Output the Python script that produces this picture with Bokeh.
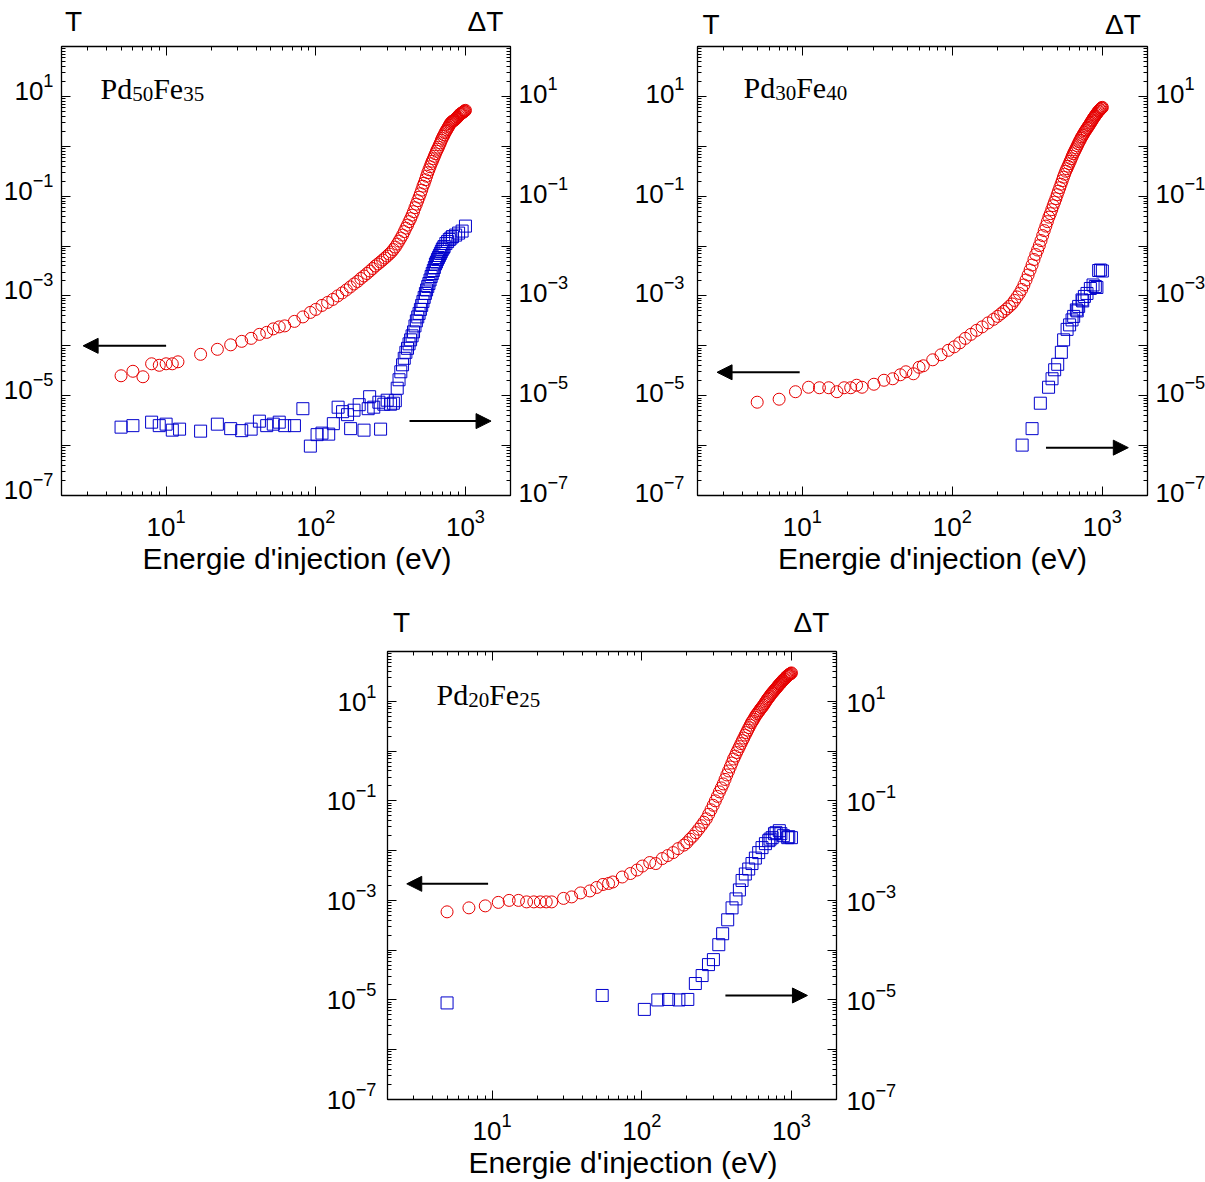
import numpy as np
from bokeh.plotting import figure
from bokeh.models import (Range1d, LogScale, LogAxis, FixedTicker, Label, Arrow,
                          NormalHead, CustomJSTickFormatter, LogTickFormatter)
from bokeh.layouts import column, row
from bokeh.embed import file_html
from bokeh.resources import INLINE

# ---------------------------------------------------------------- data
# Energies in eV, transmission values stored as log10(T).

# Pd50Fe35
e1_red = [5, 6, 7, 8, 9, 10, 11, 12, 17, 22, 27, 32, 37, 42, 47, 52, 57, 62, 72, 82, 92,
          100, 110, 120, 130, 140, 150, 160, 170, 180, 190, 200, 210, 220, 230, 240, 250,
          260, 270, 280, 290, 300, 310, 320, 330, 340, 350, 360, 370, 380, 390, 400, 410,
          420, 430, 440, 450, 460, 470, 480, 490, 500, 510, 520, 530, 540, 550, 560, 570,
          580, 590, 600, 610, 620, 630, 640, 650, 660, 670, 680, 690, 700, 710, 720, 730,
          740, 750, 760, 770, 780, 790, 800, 810, 820, 830, 840, 850, 860, 870, 880, 890,
          900, 910, 920, 930, 940, 950, 960, 970, 980, 990, 1000]
lt1_red = [-4.60, -4.51, -4.62, -4.36, -4.39, -4.36, -4.36, -4.32, -4.17, -4.07, -3.98, -3.91,
           -3.85, -3.77, -3.73, -3.66, -3.62, -3.60, -3.51, -3.42, -3.33,
           -3.27, -3.19, -3.13, -3.07, -3.00, -2.94, -2.88, -2.82, -2.76, -2.71, -2.65, -2.60,
           -2.55, -2.50, -2.45, -2.40, -2.36, -2.32, -2.28, -2.24, -2.20, -2.16, -2.12, -2.07,
           -2.02, -1.96, -1.90, -1.84, -1.78, -1.71, -1.64, -1.58, -1.51, -1.45, -1.38, -1.31,
           -1.23, -1.16, -1.09, -1.02, -0.95, -0.88, -0.80, -0.74, -0.67, -0.60, -0.53, -0.47,
           -0.41, -0.35, -0.30, -0.25, -0.20, -0.15, -0.10, -0.06, -0.02, 0.03, 0.07, 0.12,
           0.16, 0.20, 0.23, 0.27, 0.30, 0.33, 0.36, 0.39, 0.42, 0.45, 0.47, 0.49, 0.50, 0.51,
           0.52, 0.53, 0.55, 0.56, 0.58, 0.59, 0.61, 0.63, 0.64, 0.65, 0.66, 0.67, 0.68, 0.69,
           0.70, 0.71, 0.72]
e1_blue = [5, 6, 8, 9, 10, 11, 12.3, 17, 22, 27, 32, 37, 42, 47, 52, 57, 62, 72, 82, 92,
           102, 110, 122, 131, 141, 151, 163, 171, 180, 195, 210, 224, 229, 244, 264, 271,
           285, 300, 316, 330, 340, 350, 360, 370, 380, 390, 400, 410, 420, 430, 440, 450,
           460, 470, 480, 490, 500, 510, 520, 530, 540, 550, 560, 570, 580, 590, 600, 610,
           620, 630, 640, 650, 660, 670, 680, 690, 700, 710, 720, 740, 760, 780, 800, 820,
           860, 900, 950, 1000]
lt1_blue = [-5.63, -5.60, -5.53, -5.60, -5.57, -5.69, -5.67, -5.71, -5.57, -5.66, -5.70, -5.67,
            -5.51, -5.60, -5.57, -5.53, -5.60, -5.60, -5.26, -6.01,
            -5.78, -5.75, -5.77, -5.56, -5.23, -5.32, -5.38, -5.66, -5.29, -5.18,
            -5.69, -5.26, -5.02, -5.23, -5.13, -5.67, -5.17, -5.09, -5.17, -5.15,
            -5.10, -4.85, -4.68, -4.52, -4.38, -4.25, -4.13, -4.05, -3.96, -3.88, -3.80, -3.72,
            -3.60, -3.50, -3.42, -3.35, -3.27, -3.19, -3.11, -3.03, -2.95, -2.88, -2.81, -2.75,
            -2.68, -2.61, -2.55, -2.49, -2.43, -2.36, -2.32, -2.27, -2.23, -2.19, -2.15, -2.11,
            -2.07, -2.04, -2.01, -1.95, -1.91, -1.87, -1.84, -1.81, -1.78, -1.74, -1.70, -1.60]

# Pd30Fe40
e2_red = [5, 7, 9, 11, 13, 15, 17, 19, 21, 23, 25, 30, 35, 40, 45, 49, 55, 60, 64, 74,
          84, 94, 103, 112, 122, 133, 145, 158, 173, 188,
          200, 210, 220, 230, 240, 250, 260, 270, 280, 290, 300, 310, 320, 330, 340, 350,
          360, 370, 380, 390, 400, 410, 420, 430, 440, 450, 460, 470, 480, 490, 500, 510,
          520, 530, 540, 550, 560, 570, 580, 590, 600, 610, 620, 630, 640, 650, 660, 670,
          680, 690, 700, 710, 720, 730, 740, 750, 760, 770, 780, 790, 800, 810, 820, 830,
          840, 850, 860, 870, 880, 890, 900, 910, 920, 930, 940, 950, 960, 970, 980, 990, 1000]
lt2_red = [-5.13, -5.07, -4.92, -4.83, -4.84, -4.84, -4.92, -4.84, -4.84, -4.79,
           -4.83, -4.77, -4.69, -4.66, -4.58, -4.52, -4.56, -4.43, -4.40, -4.28,
           -4.18, -4.09, -4.02, -3.94, -3.85, -3.77, -3.69, -3.62, -3.54, -3.47,
           -3.41, -3.36, -3.31, -3.26, -3.21, -3.16, -3.09, -3.02, -2.95, -2.87, -2.78, -2.68,
           -2.58, -2.48, -2.38, -2.27, -2.17, -2.08, -1.99, -1.89, -1.79, -1.69, -1.60, -1.51,
           -1.42, -1.35, -1.27, -1.19, -1.12, -1.05, -0.97, -0.90, -0.83, -0.76, -0.69, -0.62,
           -0.56, -0.50, -0.45, -0.40, -0.35, -0.30, -0.25, -0.20, -0.15, -0.11, -0.07, -0.03,
           0.01, 0.05, 0.09, 0.12, 0.16, 0.19, 0.22, 0.25, 0.28, 0.31, 0.33, 0.36, 0.38, 0.41,
           0.43, 0.46, 0.48, 0.51, 0.53, 0.56, 0.58, 0.60, 0.62, 0.64, 0.66, 0.68, 0.70, 0.71,
           0.73, 0.74, 0.76, 0.77, 0.78]
e2_blue = [292, 340, 386, 438, 462, 481, 504, 533, 552, 582, 605, 628, 644, 671, 680, 695,
           732, 740, 759, 790, 832, 867, 898, 920, 945, 970, 1000]
lt2_blue = [-5.99, -5.66, -5.15, -4.83, -4.66, -4.48, -4.37, -4.13, -3.88, -3.67, -3.58, -3.48,
            -3.41, -3.28, -3.30, -3.21, -3.08, -3.10, -3.01, -2.95, -2.85, -2.78, -2.81, -2.83,
            -2.49, -2.48, -2.50]

# Pd20Fe25
e3_red = [5, 7, 9, 11, 13, 15, 17, 19, 21, 23, 25, 30, 34, 39, 45, 50, 55, 60, 64, 74,
          84, 93, 101, 113, 124, 137, 149, 162, 175, 191,
          200, 210, 220, 230, 240, 250, 260, 270, 280, 290, 300, 310, 320, 330, 340, 350,
          360, 370, 380, 390, 400, 410, 420, 430, 440, 450, 460, 470, 480, 490, 500, 510,
          520, 530, 540, 550, 560, 570, 580, 590, 600, 610, 620, 630, 640, 650, 660, 670,
          680, 690, 700, 710, 720, 730, 740, 750, 760, 770, 780, 790, 800, 810, 820, 830,
          840, 850, 860, 870, 880, 890, 900, 910, 920, 930, 940, 950, 960, 970, 980, 990, 1000]
lt3_red = [-3.23, -3.15, -3.11, -3.04, -3.00, -3.00, -3.03, -3.03, -3.03, -3.03,
           -3.03, -2.96, -2.93, -2.85, -2.81, -2.74, -2.68, -2.66, -2.63, -2.53,
           -2.46, -2.39, -2.31, -2.24, -2.26, -2.16, -2.10, -2.04, -1.96, -1.89,
           -1.84, -1.77, -1.71, -1.64, -1.57, -1.50, -1.43, -1.36, -1.27, -1.18, -1.09, -1.00,
           -0.91, -0.82, -0.74, -0.66, -0.57, -0.48, -0.40, -0.32, -0.24, -0.16, -0.10, -0.03,
           0.03, 0.09, 0.15, 0.21, 0.26, 0.32, 0.37, 0.42, 0.47, 0.52, 0.57, 0.60, 0.64, 0.68,
           0.72, 0.75, 0.78, 0.81, 0.84, 0.87, 0.89, 0.92, 0.95, 0.98, 1.01, 1.04, 1.06, 1.09,
           1.11, 1.14, 1.16, 1.18, 1.20, 1.22, 1.24, 1.26, 1.28, 1.30, 1.32, 1.34, 1.35, 1.37,
           1.39, 1.41, 1.42, 1.44, 1.45, 1.47, 1.48, 1.50, 1.51, 1.52, 1.53, 1.54, 1.55, 1.56,
           1.57]
e3_blue = [5, 54.4, 104, 128, 151, 177, 203, 228, 253, 279, 301, 327, 347, 375, 401, 426,
           449, 468, 492, 518, 545, 574, 604, 636, 670, 705, 720, 743, 770, 789, 830, 850,
           883, 944, 960, 1000]
lt3_blue = [-5.06, -4.91, -5.19, -5.00, -4.99, -5.00, -4.99, -4.67, -4.51, -4.29, -4.19, -3.89,
            -3.67, -3.39, -3.15, -2.97, -2.79, -2.60, -2.47, -2.37, -2.26, -2.15, -2.04, -1.94,
            -1.86, -1.80, -1.77, -1.74, -1.66, -1.64, -1.60, -1.66, -1.70, -1.74, -1.72, -1.74]

names = [("Pd", "50", "Fe", "35"), ("Pd", "30", "Fe", "40"), ("Pd", "20", "Fe", "25")]
x_label = "Energie d'injection (eV)"
left_title = "T"
right_title = "\u0394T"
labelled_decades = [1, -1, -3, -5, -7]

# arrows: (x_start, y_start, x_end, y_end) for the T arrow and the dT arrow
arrows = [
    [(10, 1.0e-4, 2.79, 1.0e-4), (423, 3.1e-6, 1483, 3.1e-6)],
    [(9.6, 2.95e-5, 2.70, 2.95e-5), (421, 9.1e-7, 1490, 9.1e-7)],
    [(9.4, 2.15e-3, 2.69, 2.15e-3), (362, 1.23e-5, 1279, 1.23e-5)],
]

# ---------------------------------------------------------------- style
X_MIN, X_MAX = 2, 2000
Y_MIN, Y_MAX = 1e-7, 1e2
RED = "#e60000"
BLUE = "#0000cc"
SANS = "Liberation Sans"
SERIF = "Liberation Serif"

y_major = [10.0 ** d for d in range(-7, 3)]
y_minor = [k * 10.0 ** d for d in range(-7, 2) for k in range(2, 10)]
y_labelled = [10.0 ** d for d in labelled_decades]
x_major = [10.0, 100.0, 1000.0]
x_minor = [k * 10.0 ** d for d in range(0, 4) for k in range(2, 10) if k * 10.0 ** d <= 2000]

TIMES_ADV = {"P": 0.556, "d": 0.5, "F": 0.556, "e": 0.444}


def tick_style(ax):
    ax.major_tick_in = 9
    ax.major_tick_out = 0
    ax.minor_tick_in = 4
    ax.minor_tick_out = 0
    ax.axis_line_color = "black"
    ax.axis_line_width = 1.3
    ax.major_tick_line_color = "black"
    ax.minor_tick_line_color = "black"
    ax.major_tick_line_width = 1
    ax.minor_tick_line_width = 1


def no_ticks(ax):
    ax.axis_line_color = None
    ax.major_tick_line_color = None
    ax.minor_tick_line_color = None
    ax.major_tick_in = 0
    ax.major_tick_out = 0
    ax.minor_tick_in = 0
    ax.minor_tick_out = 0


def label_style(ax, standoff, size="26px"):
    ax.major_label_text_font = SANS
    ax.major_label_text_font_size = size
    ax.major_label_text_color = "black"
    ax.major_label_standoff = int(standoff)


def blank_labels(ax):
    ax.formatter = CustomJSTickFormatter(code="return '';")
    label_style(ax, 0, size="1px")


def lab(p, x, y, text, size, xo, yo, align="left", font=SERIF):
    p.add_layout(Label(x=x, y=y, text=text, x_offset=xo, y_offset=yo,
                       text_font=font, text_font_size=f"{size}px", text_align=align,
                       text_baseline="alphabetic", text_color="black"))


def panel(e_red, lt_red, e_blue, lt_blue, name, arr, g):
    fw, fh = g["fw"], g["fh"]
    px_dec_y = fh / 9.0
    px_dec_x = fw / 3.0
    p = figure(x_axis_type="log", y_axis_type="log",
               x_range=Range1d(X_MIN, X_MAX), y_range=Range1d(Y_MIN, Y_MAX),
               frame_width=fw, frame_height=fh,
               min_border_left=g["bl"], min_border_right=g["br"],
               min_border_top=g["bt"], min_border_bottom=g["bb"],
               output_backend="svg", toolbar_location=None, title=None)
    sl = 10 ** (-g["sl"] / px_dec_y)
    sr = 10 ** (-g["sr"] / px_dec_y)
    p.extra_y_ranges = {"dt": Range1d(Y_MIN, Y_MAX),
                        "lblL": Range1d(Y_MIN * sl, Y_MAX * sl),
                        "lblR": Range1d(Y_MIN * sr, Y_MAX * sr)}
    p.extra_y_scales = {"dt": LogScale(), "lblL": LogScale(), "lblR": LogScale()}
    p.xgrid.visible = False
    p.ygrid.visible = False
    p.outline_line_color = "black"
    p.outline_line_width = 1
    p.background_fill_color = "white"
    p.border_fill_color = "white"

    # bottom axis: ticks and 10^n labels
    xa = p.xaxis[0]
    xa.ticker = FixedTicker(ticks=x_major, minor_ticks=x_minor)
    xa.formatter = LogTickFormatter()
    tick_style(xa)
    label_style(xa, g["xs"])

    # outer bottom axis carrying the axis title
    title_pos = np.sqrt(X_MIN * X_MAX) * 10 ** (g["titx"] / px_dec_x)
    ba = LogAxis()
    ba.ticker = FixedTicker(ticks=[title_pos], minor_ticks=[])
    ba.formatter = CustomJSTickFormatter(code="return '';")
    ba.major_label_overrides = {title_pos: x_label}
    no_ticks(ba)
    label_style(ba, g["xls"], size="30px")
    p.add_layout(ba, "below")

    # left axis (T): ticks on the frame, labels on a second axis
    ya = p.yaxis[0]
    ya.ticker = FixedTicker(ticks=y_major, minor_ticks=y_minor)
    tick_style(ya)
    blank_labels(ya)
    la = LogAxis(y_range_name="lblL")
    la.ticker = FixedTicker(ticks=y_labelled, minor_ticks=[])
    la.formatter = LogTickFormatter()
    no_ticks(la)
    label_style(la, g["ls"])
    p.add_layout(la, "left")

    # right axis (Delta T)
    ra = LogAxis(y_range_name="dt")
    ra.ticker = FixedTicker(ticks=y_major, minor_ticks=y_minor)
    tick_style(ra)
    blank_labels(ra)
    p.add_layout(ra, "right")
    rla = LogAxis(y_range_name="lblR")
    rla.ticker = FixedTicker(ticks=y_labelled, minor_ticks=[])
    rla.formatter = LogTickFormatter()
    no_ticks(rla)
    label_style(rla, g["rs"])
    p.add_layout(rla, "right")

    # top axis: ticks only
    ta = LogAxis()
    ta.ticker = FixedTicker(ticks=x_major, minor_ticks=x_minor)
    tick_style(ta)
    blank_labels(ta)
    p.add_layout(ta, "above")

    # outer top axis carrying the "T" and "Delta T" titles
    t_pos = X_MIN * 10 ** (g["tx"] / px_dec_x)
    dt_pos = X_MAX * 10 ** (-g["dtx"] / px_dec_x)
    oa = LogAxis()
    oa.ticker = FixedTicker(ticks=[t_pos, dt_pos], minor_ticks=[])
    oa.formatter = CustomJSTickFormatter(code="return '';")
    oa.major_label_overrides = {t_pos: left_title, dt_pos: right_title}
    no_ticks(oa)
    label_style(oa, g["ts"], size="28px")
    p.add_layout(oa, "above")

    p.scatter(e_red, np.power(10.0, lt_red), marker="circle", size=12,
              fill_color=None, line_color=RED, line_width=1)
    p.scatter(e_blue, np.power(10.0, lt_blue), marker="square", size=12,
              fill_color=None, line_color=BLUE, line_width=1, y_range_name="dt")

    for (xs, ys, xe, ye) in arr:
        p.add_layout(Arrow(x_start=xs, y_start=ys, x_end=xe, y_end=ye,
                           line_width=2, line_color="black",
                           end=NormalHead(size=15, fill_color="black",
                                          line_color="black", line_width=1)))

    # sample name with subscripts
    xo = g["nx"]
    for i, part in enumerate(name):
        sub = (i % 2 == 1)
        size = 21 if sub else 30
        lab(p, X_MIN, Y_MAX, part, size, xo, g["ny"] - (5 if sub else 0))
        xo += sum(TIMES_ADV.get(c, 0.5) for c in part) * size
    return p


g1 = dict(fw=449, fh=449, bl=61, br=64, bt=46, bb=82,
          xs=13, xls=3, titx=11, ls=8, rs=8, sl=10, sr=7, ts=10,
          tx=12, dtx=25, nx=39, ny=-42)
g2 = dict(fw=450, fh=449, bl=123, br=58, bt=46, bb=82,
          xs=13, xls=3, titx=10, ls=13, rs=8, sl=7, sr=7, ts=7,
          tx=13.5, dtx=24.5, nx=46, ny=-41)
g3 = dict(fw=449, fh=448, bl=387, br=80, bt=74, bb=82,
          xs=13, xls=3, titx=11, ls=11, rs=10, sl=4, sr=3, ts=14,
          tx=14, dtx=25, nx=49, ny=-43)

p1 = panel(e1_red, lt1_red, e1_blue, lt1_blue, names[0], arrows[0], g1)
p2 = panel(e2_red, lt2_red, e2_blue, lt2_blue, names[1], arrows[1], g2)
p3 = panel(e3_red, lt3_red, e3_blue, lt3_blue, names[2], arrows[2], g3)

layout = column(row(p1, p2), p3)
open("out.html", "w").write(file_html(layout, INLINE))
